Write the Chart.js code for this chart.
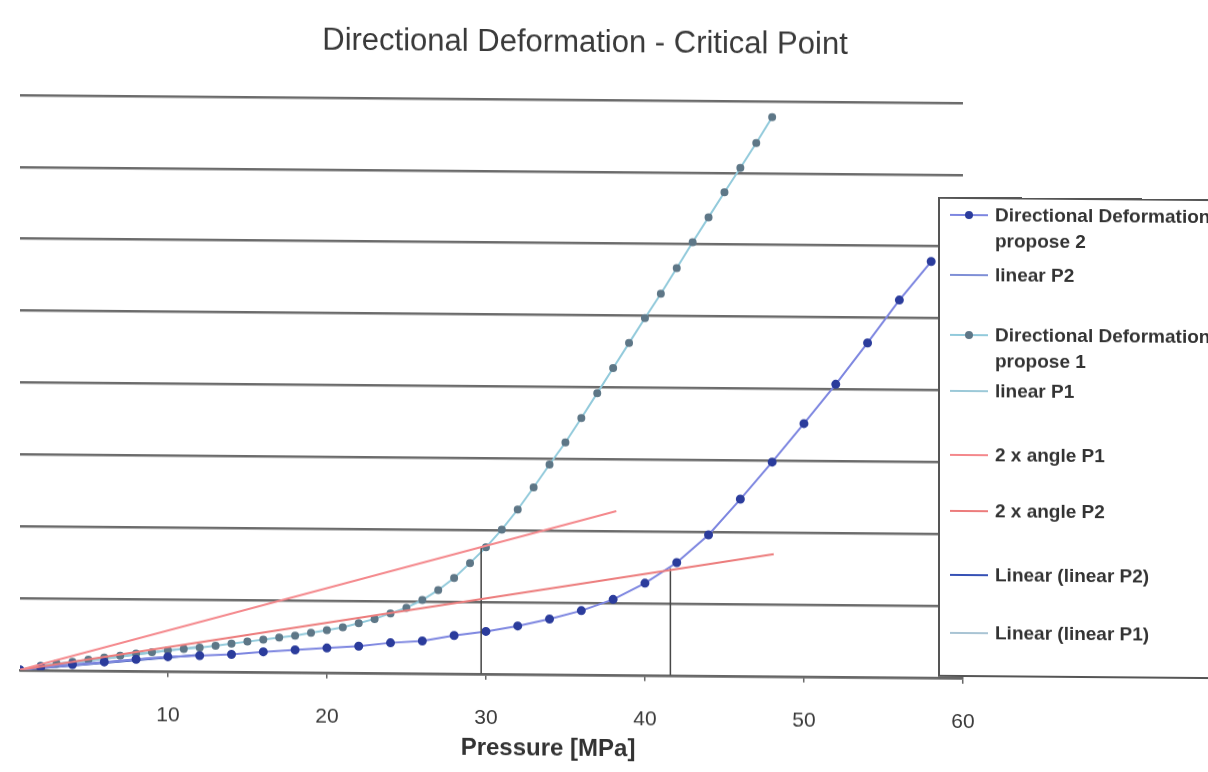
<!DOCTYPE html>
<html>
<head>
<meta charset="utf-8">
<script src="https://cdn.jsdelivr.net/npm/chart.js@4.4.1/dist/chart.umd.min.js"></script>
<style>
html, body { margin: 0; padding: 0; background: #fff; overflow: hidden; width: 1208px; height: 772px; }
#sheet { position: relative; width: 1208px; height: 772px; transform: skewY(0.48deg); transform-origin: 604px 386px;
         font-family: "Liberation Sans", Arial, sans-serif; color: #3a3a3a; }
#chart { position: absolute; left: 0; top: 0; }
#title { position: absolute; left: 235px; width: 700px; top: 24px; line-height: 36px; text-align: center; font-size: 31px; }
#xtitle { position: absolute; left: 398px; width: 300px; top: 734px; line-height: 28px; text-align: center; font-size: 24px; font-weight: bold; color: #333; }
#legend { position: absolute; left: 938px; top: 194px; width: 330px; height: 480px; border: 2px solid #555; background: #fff; box-sizing: border-box; }
.item { position: absolute; left: 10px; width: 300px; height: 60px; }
.sym { position: absolute; left: 0; top: 12px; width: 38px; height: 2px; }
.dot { position: absolute; left: 15px; top: -3px; width: 8px; height: 8px; border-radius: 50%; }
.txt { position: absolute; left: 45px; top: 0; width: 235px; font-size: 19px; font-weight: bold; line-height: 26px; color: #333; }
</style>
</head>
<body>
<div id="sheet">
  <canvas id="chart" width="1208" height="772"></canvas>
  <div id="title">Directional Deformation - Critical Point</div>
  <div id="xtitle">Pressure [MPa]</div>
  <div id="legend"></div>
</div>
<script>
// axis
const xMin = 0.7;
const xMax = 60;
const xTicks = [10, 20, 30, 40, 50, 60];
const yMax = 8;

// Directional Deformation propose 2 (every 2 MPa)
const p2X = [0.7, 2, 4, 6, 8, 10, 12, 14, 16, 18, 20, 22, 24, 26, 28, 30, 32, 34, 36, 38, 40, 42, 44, 46, 48, 50, 52, 54, 56, 58];
const p2Y = [0, 0.04, 0.08, 0.12, 0.16, 0.2, 0.22, 0.24, 0.28, 0.31, 0.34, 0.37, 0.42, 0.45, 0.53, 0.59, 0.67, 0.77, 0.89, 1.05, 1.28, 1.57, 1.96, 2.46, 2.98, 3.52, 4.07, 4.65, 5.25, 5.79];

// Directional Deformation propose 1 (every 1 MPa)
const p1X = [0.7, 2, 3, 4, 5, 6, 7, 8, 9, 10, 11, 12, 13, 14, 15, 16, 17, 18, 19, 20, 21, 22, 23, 24, 25,
             26, 27, 28, 29, 30, 31, 32, 33, 34, 35, 36, 37, 38, 39, 40, 41, 42, 43, 44, 45, 46, 47, 48];
const p1Y = [0, 0.06, 0.09, 0.12, 0.15, 0.18, 0.21, 0.24, 0.26, 0.29, 0.31, 0.33, 0.36, 0.39, 0.42, 0.45, 0.48, 0.51, 0.55, 0.59,
             0.63, 0.69, 0.75, 0.83, 0.91, 1.02, 1.16, 1.33, 1.54, 1.76, 2.01, 2.29, 2.6, 2.92, 3.23, 3.57, 3.92, 4.27,
             4.62, 4.97, 5.31, 5.67, 6.03, 6.38, 6.73, 7.07, 7.42, 7.78];

// initial tangents and their trendlines
const linP2X = [0.7, 10];
const linP2Y = [0, 0.2];
const linP1X = [0.7, 10];
const linP1Y = [0, 0.29];
const trendP2X = [0.7, 12];
const trendP2Y = [0, 0.23];
const trendP1X = [0.7, 12];
const trendP1Y = [0, 0.35];

// doubled-angle lines
const angP1X = [0.7, 38.2];
const angP1Y = [0, 2.28];
const angP2X = [0.7, 48.1];
const angP2Y = [0, 1.7];

// critical point markers
const crit1X = [29.7, 29.7];
const crit1Y = [0, 1.77];
const crit2X = [41.6, 41.6];
const crit2Y = [0, 1.49];

const pts = (xs, ys) => xs.map((x, i) => ({ x: x, y: ys[i] }));

function line(label, xs, ys, color, width, extra) {
    return Object.assign({
        label: label,
        data: pts(xs, ys),
        showLine: true,
        borderColor: color,
        backgroundColor: color,
        borderWidth: width,
        pointRadius: 0,
        tension: 0
    }, extra || {});
}

const datasets = [
    line('Directional Deformation propose 2', p2X, p2Y, '#7d86e0', 2,
         { pointRadius: 3.5, pointBackgroundColor: '#2b3c9c', pointBorderColor: '#2b3c9c', order: 3 }),
    line('linear P2', linP2X, linP2Y, '#7f8fd6', 2, { order: 4 }),
    line('Directional Deformation propose 1', p1X, p1Y, '#92cadb', 2,
         { pointRadius: 3, pointBackgroundColor: '#5e7787', pointBorderColor: '#5e7787', order: 3 }),
    line('linear P1', linP1X, linP1Y, '#9cc9d8', 2, { order: 4 }),
    line('2 x angle P1', angP1X, angP1Y, '#f4888c', 2, { order: 1 }),
    line('2 x angle P2', angP2X, angP2Y, '#ec7c7c', 2, { order: 1 }),
    line('Linear (linear P2)', trendP2X, trendP2Y, '#3651b5', 2, { order: 4 }),
    line('Linear (linear P1)', trendP1X, trendP1Y, '#a9c4d4', 2, { order: 4 }),
    line('crit1', crit1X, crit1Y, '#444', 1.5, { order: 2 }),
    line('crit2', crit2X, crit2Y, '#444', 1.5, { order: 2 })
];

const chart = new Chart(document.getElementById('chart'), {
    type: 'scatter',
    data: { datasets: datasets },
    options: {
        responsive: false,
        animation: false,
        layout: { padding: { left: 20, right: 245, top: 100, bottom: 14 } },
        plugins: { legend: { display: false }, tooltip: { enabled: false }, title: { display: false } },
        scales: {
            x: {
                type: 'linear',
                min: xMin,
                max: xMax,
                afterBuildTicks: ax => { ax.ticks = xTicks.map(v => ({ value: v })); },
                grid: { drawOnChartArea: false, drawTicks: true, tickLength: 6, color: '#666', lineWidth: 1.5 },
                border: { color: '#666', width: 2.5 },
                ticks: { padding: 26, color: '#3a3a3a', font: { family: 'Liberation Sans', size: 21 } }
            },
            y: {
                min: 0,
                max: yMax,
                ticks: { display: false, stepSize: 1 },
                grid: { color: '#6b6b6b', lineWidth: 2.5, drawTicks: false },
                border: { display: false }
            }
        }
    }
});

// legend box, drawn over the right edge of the plot like the original
const legendTops = [3, 63, 123, 179, 243, 299, 363, 421];
const legendEl = document.getElementById('legend');
datasets.slice(0, 8).forEach((d, i) => {
    const item = document.createElement('div');
    item.className = 'item';
    item.style.top = legendTops[i] + 'px';
    const dot = d.pointRadius ? `<span class="dot" style="background:${d.pointBackgroundColor}"></span>` : '';
    item.innerHTML = `<span class="sym" style="background:${d.borderColor}">${dot}</span><div class="txt">${d.label}</div>`;
    legendEl.appendChild(item);
});
</script>
</body>
</html>
